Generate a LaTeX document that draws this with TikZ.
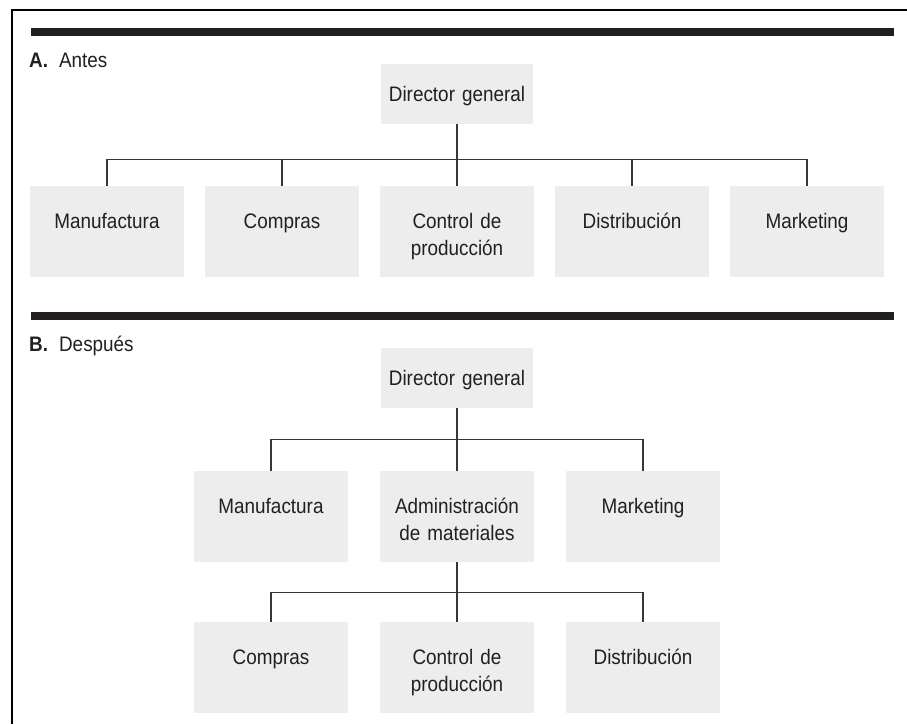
\documentclass[tikz,border=0pt]{standalone}
\usepackage{fontspec}
\setmainfont{Liberation Sans}[FakeStretch=0.9]
\definecolor{ink}{HTML}{231F20}
\definecolor{boxgray}{HTML}{EDEDED}

\tikzset{
  unit/.style={fill=boxgray, text=ink, inner sep=0pt, anchor=north,
    text width=154pt, align=center, text height=42pt, text depth=49pt,
    font=\fontsize{21}{27.5}\selectfont},
  chief/.style={unit, text width=152pt, text height=37pt, text depth=23pt},
  link/.style={draw=ink!90, line width=1.1pt},
  part/.style={anchor=base west, inner sep=0pt, text=ink, font=\fontsize{21}{24}\selectfont},
}

\begin{document}
\begin{tikzpicture}[x=1pt, y=-1pt]
  \useasboundingbox (0,0) rectangle (907,724);
  % frame and bars
  \draw[line width=2pt] (12,724) -- (12,10) -- (907,10);
  \fill[ink] (31,28) rectangle (894,36);
  \fill[ink] (31,312) rectangle (894,320);

  % A. Antes
  \node[part] (labA) at (29,67) {\textbf{A.}\hspace{11pt}Antes};
  \node[chief] (dirA) at (457,64) {Director general};
  \foreach \name/\x/\txt in {manA/107/Manufactura, comA/282/Compras,
      ctlA/457/{Control de\\producción}, disA/632/Distribución, mktA/807/Marketing}
    { \node[unit] (\name) at (\x,186) {\txt}; }
  \foreach \name in {manA, comA, ctlA, disA, mktA}
    { \draw[link] (dirA.south) -- ++(0,35) -| (\name.north); }

  % B. Despues
  \node[part] (labB) at (29,351) {\textbf{B.}\hspace{11pt}Después};
  \node[chief] (dirB) at (457,348) {Director general};
  \foreach \name/\x/\txt in {manB/271/Manufactura,
      admB/457/{Administración\\de materiales}, mktB/643/Marketing}
    { \node[unit] (\name) at (\x,471) {\txt}; }
  \foreach \name/\x/\txt in {comB/271/Compras,
      ctlB/457/{Control de\\producción}, disB/643/Distribución}
    { \node[unit] (\name) at (\x,622) {\txt}; }
  \foreach \name in {manB, admB, mktB}
    { \draw[link] (dirB.south) -- ++(0,31) -| (\name.north); }
  \foreach \name in {comB, ctlB, disB}
    { \draw[link] (admB.south) -- ++(0,30) -| (\name.north); }
\end{tikzpicture}
\end{document}
